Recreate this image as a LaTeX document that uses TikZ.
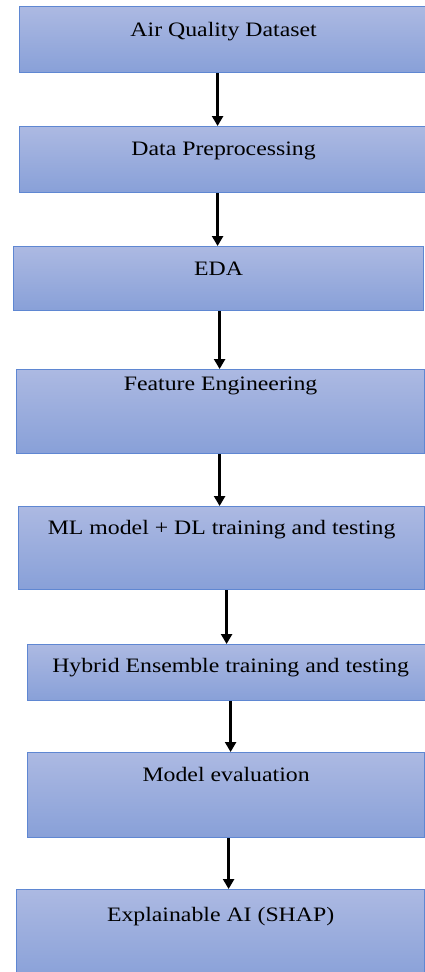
\documentclass[tikz,border=0pt]{standalone}
\usepackage{fontspec}
\usepackage{graphicx}
\newfontfamily\boxfont{Liberation Serif}
\usetikzlibrary{arrows.meta}

\definecolor{boxtop}{RGB}{172,185,226}
\definecolor{boxbot}{RGB}{136,160,216}
\definecolor{boxline}{RGB}{95,135,210}

% widened serif text, as in the figure
\newcommand{\wide}[1]{\scalebox{1.16}[1]{#1}}

\tikzset{
  flowbox/.style={draw=boxline, line width=1.2pt, top color=boxtop, bottom color=boxbot,
    inner sep=0pt, anchor=north west, font=\boxfont\fontsize{20.5}{24}\selectfont},
  flowarrow/.style={line width=2.4pt, -{Triangle[width=11pt,length=10pt]}}
}

\begin{document}
\begin{tikzpicture}[x=1pt,y=1pt,yscale=-1,xscale=1]
\path[use as bounding box] (0,0) rectangle (425,972);
\clip (0,0) rectangle (425,972);

%Boxes
\node[flowbox, minimum width=408, text height=30, text depth=36] (b1) at (19,6) {\wide{Air Quality Dataset}};
\node[flowbox, minimum width=408, text height=29, text depth=37] (b2) at (19,126) {\wide{Data Preprocessing}};
\node[flowbox, minimum width=410, text height=29, text depth=35] (b3) at (13,246) {\wide{EDA}};
\node[flowbox, minimum width=408, text height=21, text depth=63] (b4) at (16,369) {\wide{Feature Engineering}};
\node[flowbox, minimum width=406, text height=28, text depth=55] (b5) at (18,506) {\wide{ML model + DL training and testing}};
\node[flowbox, minimum width=406, text height=28, text depth=28] (b6) at (27,644) {\wide{Hybrid Ensemble training and testing}};
\node[flowbox, minimum width=397, text height=29, text depth=56] (b7) at (27,752) {\wide{Model evaluation}};
\node[flowbox, minimum width=408, text height=32, text depth=60] (b8) at (16,889) {\wide{Explainable AI (SHAP)}};

%Arrows
\draw[flowarrow] ([xshift=-6]b1.south) -- ([xshift=-6]b1.south |- b2.north);
\draw[flowarrow] ([xshift=-6]b2.south) -- ([xshift=-6]b2.south |- b3.north);
\draw[flowarrow] ([xshift=1]b3.south) -- ([xshift=1]b3.south |- b4.north);
\draw[flowarrow] ([xshift=-1]b4.south) -- ([xshift=-1]b4.south |- b5.north);
\draw[flowarrow] ([xshift=5]b5.south) -- ([xshift=5]b5.south |- b6.north);
\draw[flowarrow] (b6.south) -- (b6.south |- b7.north);
\draw[flowarrow] ([xshift=2.5]b7.south) -- ([xshift=2.5]b7.south |- b8.north);

\end{tikzpicture}
\end{document}
